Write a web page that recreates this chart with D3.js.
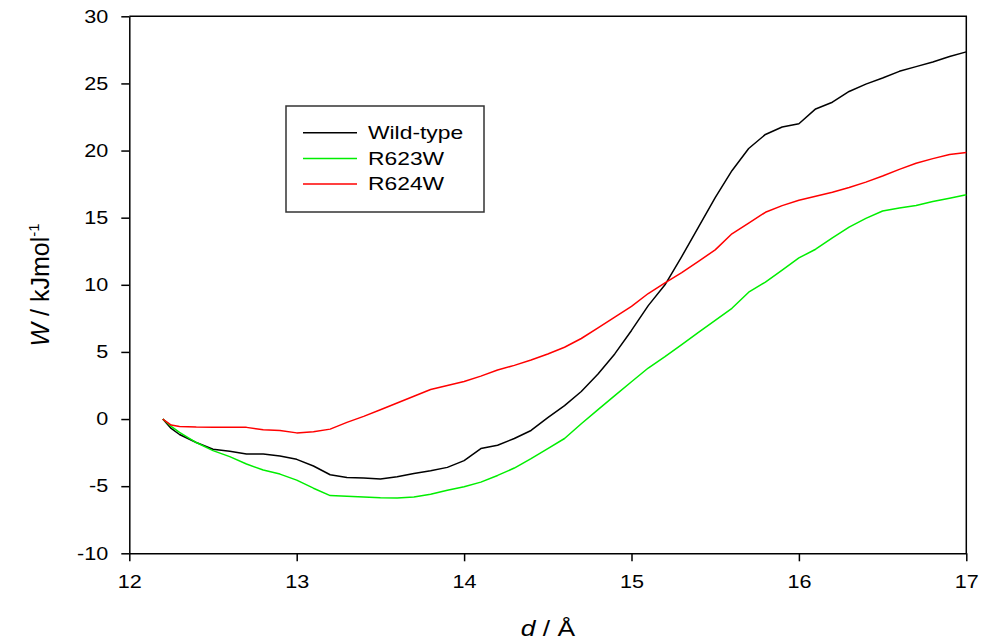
<!DOCTYPE html>
<html>
<head>
<meta charset="utf-8">
<script src="https://cdn.jsdelivr.net/npm/d3@7"></script>
<style>
body { margin: 0; background: #fff; }
svg text { font-family: "Liberation Sans", Arial, sans-serif; fill: #000; }
</style>
</head>
<body>
<svg id="chart" width="991" height="642"></svg>
<script>
// d / Å
var distance = [12.2, 12.25, 12.3, 12.4, 12.5, 12.6, 12.7, 12.8, 12.9, 13.0,
	13.1, 13.2, 13.3, 13.4, 13.5, 13.6, 13.7, 13.8, 13.9, 14.0,
	14.1, 14.2, 14.3, 14.4, 14.5, 14.6, 14.7, 14.8, 14.9, 15.0,
	15.1, 15.2, 15.3, 15.4, 15.5, 15.6, 15.7, 15.8, 15.9, 16.0,
	16.1, 16.2, 16.3, 16.4, 16.5, 16.6, 16.7, 16.8, 16.9, 17.0];

// W / kJmol-1
var wildType = [0, -0.7, -1.15, -1.75, -2.25, -2.4, -2.6, -2.6, -2.75, -3.0,
	-3.5, -4.15, -4.35, -4.4, -4.47, -4.3, -4.05, -3.85, -3.6, -3.1,
	-2.2, -1.95, -1.45, -0.85, 0.1, 1.0, 2.05, 3.35, 4.85, 6.6,
	8.45, 10.0, 12.1, 14.3, 16.5, 18.5, 20.15, 21.2, 21.75, 22.0,
	23.1, 23.6, 24.4, 24.95, 25.4, 25.9, 26.25, 26.6, 27.0, 27.35];

var r623w = [0, -0.55, -1.0, -1.75, -2.35, -2.8, -3.35, -3.8, -4.1, -4.55,
	-5.15, -5.7, -5.75, -5.8, -5.87, -5.88, -5.8, -5.6, -5.3, -5.05,
	-4.7, -4.2, -3.65, -2.95, -2.2, -1.45, -0.35, 0.7, 1.75, 2.78,
	3.8, 4.65, 5.55, 6.45, 7.35, 8.25, 9.45, 10.2, 11.1, 12.0,
	12.65, 13.5, 14.3, 14.95, 15.5, 15.72, 15.9, 16.2, 16.45, 16.7];

var r624w = [0, -0.45, -0.55, -0.6, -0.62, -0.62, -0.62, -0.8, -0.85, -1.03,
	-0.95, -0.75, -0.25, 0.2, 0.69, 1.2, 1.7, 2.2, 2.5, 2.8,
	3.2, 3.65, 4.0, 4.4, 4.85, 5.35, 6.0, 6.8, 7.6, 8.4,
	9.35, 10.15, 10.9, 11.75, 12.6, 13.8, 14.6, 15.4, 15.9, 16.3,
	16.6, 16.9, 17.25, 17.65, 18.1, 18.6, 19.05, 19.4, 19.7, 19.85];

var seriesNames = ['Wild-type', 'R623W', 'R624W'];
var xTicks = [12, 13, 14, 15, 16, 17];
var yTicks = [-10, -5, 0, 5, 10, 15, 20, 25, 30];

var colors = ['#000000', '#00ee00', '#ff0000'];
var series = [wildType, r623w, r624w];

var margin = {top: 16.3, left: 129.3, right: 24.7, bottom: 88.7};
var width = 991 - margin.left - margin.right,
	height = 642 - margin.top - margin.bottom;

var svg = d3.select('#chart');
var g = svg.append('g')
	.attr('transform', 'translate(' + margin.left + ',' + margin.top + ')');

var x = d3.scaleLinear().domain([12, 17]).range([0, width]);
var y = d3.scaleLinear().domain([-10, 30]).range([height, 0]);

// squeeze text sideways like the source renderer
function stretch(sel, k) {
	sel.each(function () {
		var t = d3.select(this),
			tx = +t.attr('x') || 0,
			ty = +t.attr('y') || 0;
		t.attr('transform', 'translate(' + tx + ',' + ty + ') scale(' + k + ',1) translate(' + (-tx) + ',' + (-ty) + ')');
	});
}

function plain(d) { return String(d); }

var xAxis = g.append('g')
	.attr('transform', 'translate(0,' + height + ')')
	.call(d3.axisBottom(x).tickValues(xTicks).tickFormat(plain)
		.tickSize(8).tickSizeOuter(0).tickPadding(14));

var yAxis = g.append('g')
	.call(d3.axisLeft(y).tickValues(yTicks).tickFormat(plain)
		.tickSize(8).tickSizeOuter(0).tickPadding(13));

[xAxis, yAxis].forEach(function (a) {
	a.selectAll('path, line').attr('stroke', '#000').attr('stroke-width', 1.5);
	a.selectAll('text').attr('font-size', 18).attr('font-family', null);
	stretch(a.selectAll('text'), 1.2);
});

// top and right frame
g.append('path')
	.attr('d', 'M0,0H' + width + 'V' + height)
	.attr('fill', 'none')
	.attr('stroke', '#000')
	.attr('stroke-width', 1.5);

var line = d3.line()
	.x(function (d, i) { return x(distance[i]); })
	.y(function (d) { return y(d); });

g.selectAll('.curve')
	.data(series)
	.enter().append('path')
	.attr('class', 'curve')
	.attr('d', line)
	.attr('fill', 'none')
	.attr('stroke', function (d, i) { return colors[i]; })
	.attr('stroke-width', 1.5)
	.attr('stroke-linejoin', 'round');

// legend
var legend = svg.append('g');
legend.append('rect')
	.attr('x', 286).attr('y', 106)
	.attr('width', 198).attr('height', 106)
	.attr('fill', '#fff')
	.attr('stroke', '#333')
	.attr('stroke-width', 1.5);

seriesNames.forEach(function (name, i) {
	var ly = 132.7 + i * 25.7;
	legend.append('line')
		.attr('x1', 303).attr('x2', 357)
		.attr('y1', ly).attr('y2', ly)
		.attr('stroke', colors[i])
		.attr('stroke-width', 1.5);
	legend.append('text')
		.attr('x', 368).attr('y', ly + 6.3)
		.attr('font-size', 18)
		.text(name)
		.call(stretch, 1.27);
});

// axis titles
var xTitle = svg.append('text')
	.attr('x', 548).attr('y', 636)
	.attr('text-anchor', 'middle')
	.attr('font-size', 22);
xTitle.append('tspan').attr('font-style', 'italic').text('d');
xTitle.append('tspan').text(' / Å');
stretch(xTitle, 1.2);

var yTitle = svg.append('text')
	.attr('transform', 'translate(48.5,285) rotate(-90)')
	.attr('text-anchor', 'middle')
	.attr('font-size', 25);
yTitle.append('tspan').attr('font-style', 'italic').text('W');
yTitle.append('tspan').text(' / kJmol');
yTitle.append('tspan').attr('font-size', 15).attr('dy', -10).text('-1');
</script>
</body>
</html>
